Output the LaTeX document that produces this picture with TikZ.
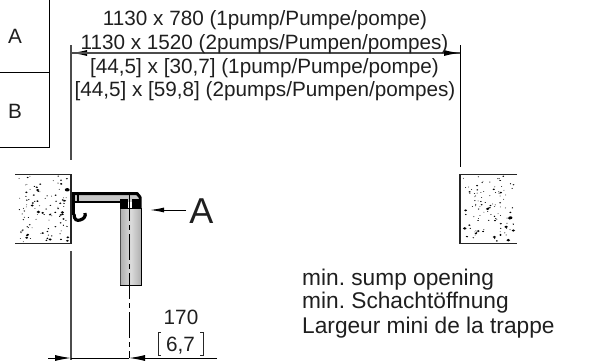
\documentclass[tikz,border=0pt]{standalone}
\usepackage{fontspec}
\setmainfont{Liberation Sans}
\usetikzlibrary{arrows.meta}
\definecolor{linegray}{gray}{0.3}
\frenchspacing
\tikzset{
 txt/.style={inner sep=0pt,anchor=base,font=\fontsize{20.7}{20.7}\selectfont,text=black!88},
 note/.style={inner sep=0pt,anchor=base west,font=\fontsize{22.7}{22.7}\selectfont,text=black!88},
 thin line/.style={draw=black,line width=1pt},
 dimline/.style={draw=linegray,line width=1.3pt},
 tip/.style={-{Latex[length=16pt,width=6pt,color=black,fill=black]}},
 gt/.style={draw=black!85,line width=1.4pt},
}
\newcommand{\speckle}[4]{%
 \foreach \i in {1,...,#3}{%
  \pgfmathsetmacro{\px}{#1+2+rnd*(#2-4)}%
  \pgfmathsetmacro{\py}{176+rnd*66}%
  \pgfmathsetmacro{\pw}{0.5+rnd*rnd*rnd*#4}%
  \fill[black] (\px,\py) ellipse[x radius=\pw,y radius=0.7*\pw];
 }}
\begin{document}
\begin{tikzpicture}[x=1pt,y=-1pt]
\useasboundingbox (0,0) rectangle (605,360);
\pgfmathsetseed{4217}
% table
\draw[thin line] (49,0) -- (49,147) -- (0,147);
\draw[thin line] (0,72) -- (49,72);
\node[txt] (la) at (15,43) {A};
\node[txt] (lb) at (15,118) {B};
% concrete
\draw[gt] (15,174.5) -- (71,174.5) -- (71,243.5) -- (15,243.5);
\speckle{16}{54}{115}{2.6}
\draw[gt] (517,174.5) -- (460,174.5) -- (460,243.5) -- (517,243.5);
\speckle{461}{55}{115}{2.6}
% extension lines
\coordinate (lt) at (71,45); \coordinate (lm) at (71,160);
\coordinate (rt) at (460,45); \coordinate (rm) at (460,167);
\coordinate (lb1) at (71,251); \coordinate (lb2) at (71,360);
\coordinate (dl) at (71,53); \coordinate (dr) at (460,53);
\draw[dimline] (lt) -- (lm);
\draw[dimline] (lb1) -- (lb2);
\draw[thin line] (rt) -- (rm);
\draw[dimline,tip] (dr) -- (dl);
\draw[dimline,tip] (dl) -- (dr);
% lower dimension
\coordinate (a1) at (48,358); \coordinate (a2) at (71,358);
\coordinate (b1) at (217,358); \coordinate (b2) at (129,358);
\draw[thin line,tip] (a1) -- (a2);
\draw[thin line,tip] (b1) -- (b2);
\draw[thin line] (a2) -- (b2);
% pump
\path[left color=black!32,right color=black!32,middle color=black!14] (120,208) rectangle (141.5,285);
\draw[draw=black!70,line width=1pt] (120,208) -- (120,285);
\draw[draw=black,line width=1pt] (141.5,208) -- (141.5,285) -- (120,285);
\draw[draw=black,line width=1pt] (120,208) -- (141.5,208);
% bracket
\fill[black!22] (75,194) rectangle (138,202);
\draw[black,line width=3pt,line join=round] (72,193.5) -- (137,193.5) -- (140,197) -- (140,208);
\draw[black,line width=1.6pt] (75,202) -- (122,202);
\draw[black,line width=2.4pt] (73.5,193) -- (73.5,215);
\draw[black,line width=1.4pt] (78,193) -- (78,202);
\fill[black] (119.5,199) rectangle (128,208);
\fill[black] (132,199) rectangle (140.5,208);
\draw[black,line width=3.2pt] (74,214) .. controls (74,220) and (77,221) .. (80,220) .. controls (84,219) and (86,216) .. (85,213);
% centre line
\draw[black,line width=1pt,dash pattern=on 26pt off 4pt on 5pt off 4pt] (129,195) -- (129,358);
% A arrow
\node[txt,font=\fontsize{36}{36}\selectfont] (bigA) at (201.5,223) {A};
\coordinate (as) at (186,210); \coordinate (ae) at (150,210);
\draw[thin line,-{Latex[length=14pt,width=5pt]}] (as) -- (ae);
% texts
\node[txt] (t1) at (265,25) {1130 x 780 (1pump/Pumpe/pompe)};
\node[txt] (t2) at (264.5,49) {1130 x 1520 (2pumps/Pumpen/pompes)};
\node[txt] (t3) at (264.5,73) {[44,5] x [30,7] (1pump/Pumpe/pompe)};
\node[txt] (t4) at (265,96) {[44,5] x [59,8] (2pumps/Pumpen/pompes)};
\node[note] (m1) at (302,285) {min. sump opening};
\node[note] (m2) at (302,308) {min. Schachtöffnung};
\node[note] (m3) at (302,333) {Largeur mini de la trappe};
\node[txt] (d1) at (181,324) {170};
\node[txt] (d2) at (180.5,351) {6,7};
\draw[black!85,line width=0.8pt] (161,332) -- (158,332) -- (158,355) -- (161,355);
\draw[black!85,line width=0.8pt] (200,332) -- (203,332) -- (203,355) -- (200,355);
\end{tikzpicture}
\end{document}
